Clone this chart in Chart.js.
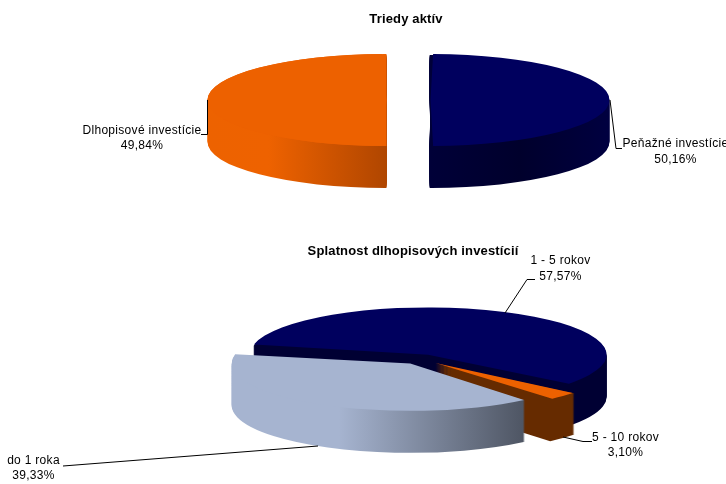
<!DOCTYPE html>
<html>
<head>
<meta charset="utf-8">
<title>Triedy aktív</title>
<script src="https://cdn.jsdelivr.net/npm/chart.js@4"></script>
<style>
    html, body { margin: 0; padding: 0; background: #fff; overflow: hidden; width: 726px; height: 484px; }
    .box { position: absolute; left: 0; }
    #box1 { top: 0; width: 812px; height: 232px; }
    #box2 { top: 232px; width: 826px; height: 252px; }
</style>
</head>
<body>
<div class="box" id="box1"><canvas id="chart1"></canvas></div>
<div class="box" id="box2"><canvas id="chart2"></canvas></div>
<script>
// data
let assetTitle = "Triedy aktív";
let assetLabels = ["Peňažné investície", "Dlhopisové investície"];
let assetValues = [50.16, 49.84];

let bondTitle = "Splatnost dlhopisových investícií";
let bondLabels = ["1 - 5 rokov", "5 - 10 rokov", "do 1 roka"];
let bondValues = [57.57, 3.10, 39.33];

const fontName = "'Liberation Sans', Arial, sans-serif";

// squashes the pie, draws the side walls, then labels and leader lines
const pie3d = {
    id: "pie3d",
    beforeDraw(chart, args, opts) {
        chart.ctx.letterSpacing = opts.titleSpacing;
    },
    beforeDatasetsDraw(chart, args, opts) {
        let ctx = chart.ctx;
        let arcs = chart.getDatasetMeta(0).data;
        ctx.save();
        ctx.translate(opts.cx - arcs[0].x, opts.cy - opts.top);
        ctx.scale(1, opts.squash);
        ctx.translate(0, -arcs[0].y);

        for (let i = 0; i < arcs.length; i++) {
            let arc = arcs[i];
            let offset = arc.options.offset / 4;
            let mid = (arc.startAngle + arc.endAngle) / 2;
            let sweep = arc.endAngle - arc.startAngle;
            // the library grows offset slices, keep them all the same size
            arc.outerRadius = opts.radius - offset * (1 - Math.sin(Math.min(Math.PI, sweep)));

            let x = arc.x + Math.cos(mid) * offset;
            let y = arc.y + Math.sin(mid) * offset;
            let grad = ctx.createLinearGradient(x - opts.radius, 0, x + opts.radius, 0);
            opts.sides[i].forEach(function (s) { grad.addColorStop(s[0], s[1]); });
            ctx.fillStyle = grad;
            for (let d = opts.depth; d >= 0; d--) {
                let dy = d / opts.squash;
                if (d === 0) {
                    // only the squared off slice needs a backing under its top face
                    if (!opts.squared[i]) continue;
                    ctx.fillStyle = arc.options.backgroundColor;
                }
                ctx.beginPath();
                if (opts.squared[i]) {
                    // near half slice: keep the cut edge straight, no notch at the centre
                    ctx.arc(x, y + dy, opts.radius, arc.startAngle, arc.endAngle);
                    ctx.lineTo(x, y + dy - opts.radius);
                    ctx.lineTo(x, y + dy + opts.radius);
                } else {
                    ctx.moveTo(x, y + dy);
                    ctx.arc(x, y + dy, opts.radius, arc.startAngle, arc.endAngle);
                }
                ctx.closePath();
                ctx.fill();
            }
        }
    },
    afterDatasetsDraw(chart, args, opts) {
        let ctx = chart.ctx;
        ctx.restore();

        // leader lines
        ctx.save();
        ctx.strokeStyle = "#000";
        ctx.lineWidth = 1;
        opts.leaders.forEach(function (pts) {
            ctx.beginPath();
            pts.forEach(function (p, i) {
                if (i === 0) ctx.moveTo(p[0], p[1] - opts.top);
                else ctx.lineTo(p[0], p[1] - opts.top);
            });
            ctx.stroke();
        });

        // data labels
        ctx.fillStyle = "#000";
        ctx.font = "12px " + fontName;
        ctx.letterSpacing = "0.3px";
        ctx.textAlign = "center";
        ctx.textBaseline = "middle";
        let labels = chart.data.labels;
        let values = chart.data.datasets[0].data;
        for (let i = 0; i < labels.length; i++) {
            let pos = opts.labelPos[i];
            ctx.fillText(labels[i], pos[0], pos[1] + 1 - opts.top);
            ctx.fillText(values[i].toFixed(2).replace(".", ",") + "%", pos[0], pos[1] + 16.5 - opts.top);
        }
        ctx.restore();
    }
};

function makePie(canvasId, title, labels, values, colors, offsets, rotation, settings) {
    return new Chart(canvasId, {
        type: "pie",
        plugins: [pie3d],
        data: {
            labels: labels,
            datasets: [{
                data: values,
                backgroundColor: colors,
                borderWidth: 0,
                offset: offsets,
                clip: false
            }]
        },
        options: {
            responsive: true,
            maintainAspectRatio: false,
            animation: false,
            rotation: rotation,
            radius: settings.radius,
            layout: { padding: 0 },
            plugins: {
                legend: { display: false },
                tooltip: { enabled: false },
                title: {
                    display: true,
                    text: title,
                    color: "#000",
                    font: { family: fontName, size: 13, weight: "bold" },
                    padding: { top: 12, bottom: 0 }
                },
                pie3d: settings
            }
        }
    });
}

makePie("chart1", assetTitle, assetLabels, assetValues, ["#00005E", "#ED6100"], [88, 88], -0.29, {
    titleSpacing: "0.15px",
    cx: 408.5,
    cy: 100,
    top: 0,
    radius: 179,
    squash: 0.257,
    depth: 42,
    squared: [false, true],
    sides: [
        [[0, "#000030"], [0.5, "#000038"], [0.75, "#00002C"], [1, "#000040"]],
        [[0, "#ED6200"], [0.17, "#EE6200"], [0.5, "#B04600"], [1, "#B04600"]]
    ],
    leaders: [
        [[201, 134.5], [207.5, 134.5], [207.5, 100]],
        [[610, 100], [616, 148.5], [622, 148.5]]
    ],
    labelPos: [[675.5, 143], [142, 129.5]]
});

makePie("chart2", bondTitle, bondLabels, bondValues, ["#00005E", "#ED6100", "#A6B4D0"], [72, 84, 80], 281.6, {
    titleSpacing: "0.15px",
    cx: 420.5,
    cy: 359,
    top: 232,
    radius: 178.5,
    squash: 0.265,
    depth: 42,
    squared: [false, false, false],
    sides: [
        [[0, "#000033"], [1, "#000033"]],
        [[0, "#662B00"], [1, "#662B00"]],
        [[0, "#A6B4D0"], [0.3, "#A6B4D0"], [0.82, "#4E5563"], [1, "#4E5563"]]
    ],
    leaders: [
        [[505, 313], [527, 279.5], [535, 279.5]],
        [[563, 437], [583, 441.5], [592, 441.5]],
        [[318, 446], [63, 466]]
    ],
    labelPos: [[560.5, 260], [625.5, 436.5], [33.5, 459.5]]
});
</script>
</body>
</html>
